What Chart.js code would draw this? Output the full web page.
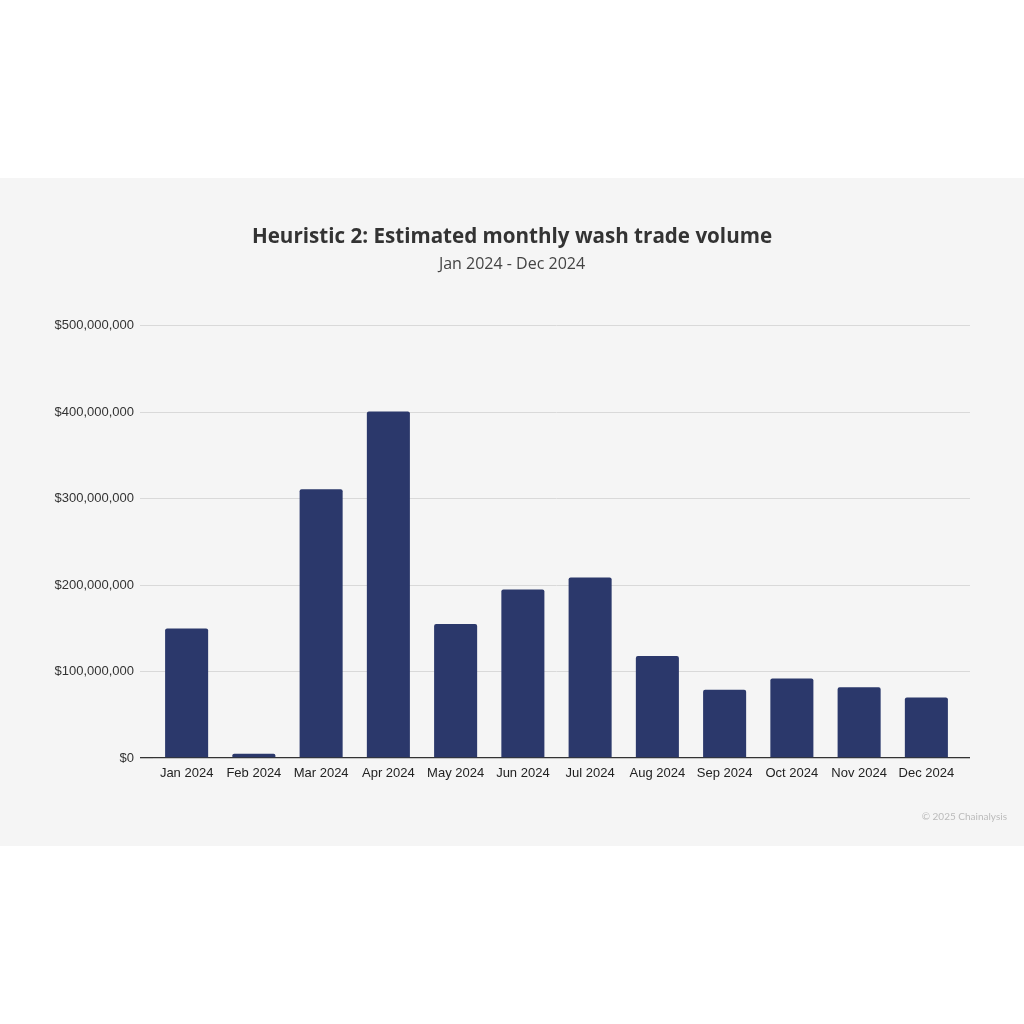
<!DOCTYPE html>
<html>
<head>
<meta charset="utf-8">
<script src="https://cdn.jsdelivr.net/npm/chart.js@4"></script>
<style>
  body { margin: 0; background: #fff; }
  #panel { position: absolute; left: 0; top: 178px; width: 1024px; height: 668px; background: #f5f5f5; }
  #credit { position: absolute; right: 17px; top: 632px; font: 10px Lato, sans-serif; color: #bbb; }
</style>
</head>
<body>
<div id="panel">
  <canvas id="washChart"></canvas>
  <span id="credit">© 2025 Chainalysis</span>
</div>
<script>
const months = ["Jan 2024", "Feb 2024", "Mar 2024", "Apr 2024", "May 2024", "Jun 2024",
                "Jul 2024", "Aug 2024", "Sep 2024", "Oct 2024", "Nov 2024", "Dec 2024"];
const washVolume = [150e6, 5e6, 311e6, 401e6, 155e6, 195e6, 209e6, 118e6, 79e6, 92e6, 82e6, 70e6];
const yTicks = [0, 100e6, 200e6, 300e6, 400e6, 500e6];

const barColor = '#2b386b';
const gridColor = (ctx) => (ctx.tick && ctx.tick.value === 0) ? '#333333' : '#d9d9d9';
const gridWidth = (ctx) => (ctx.tick && ctx.tick.value === 0) ? 1.3 : 1;

const fmt = (v) => '$' + Number(v).toLocaleString('en-US');

new Chart(document.getElementById('washChart'), {
  type: 'bar',
  data: {
    labels: months,
    datasets: [{
      label: 'Wash trade volume',
      data: washVolume,
      backgroundColor: barColor,
      borderRadius: 2,
      barPercentage: 0.8,
      categoryPercentage: 0.8
    }]
  },
  options: {
    responsive: true,
    maintainAspectRatio: false,
    animation: false,
    layout: { padding: 0 },
    plugins: {
      legend: { display: false },
      tooltip: { enabled: false },
      title: {
        display: true,
        text: 'Heuristic 2: Estimated monthly wash trade volume',
        color: '#333333',
        font: { family: 'Open Sans', size: 20.6, weight: 'bold' },
        padding: { top: 47, bottom: 0 }
      },
      subtitle: {
        display: true,
        text: 'Jan 2024 - Dec 2024',
        color: '#444444',
        font: { family: 'Open Sans', size: 16 },
        padding: { top: 5, bottom: 52 }
      }
    },
    scales: {
      x: {
        grid: { display: false },
        border: { display: false },
        ticks: { color: '#222222', font: { family: 'Arial, Liberation Sans', size: 13 }, padding: 0, maxRotation: 0 },
        afterFit: (s) => { s.height = 88; }
      },
      y: {
        min: 0,
        max: 500e6,
        afterBuildTicks: (s) => { s.ticks = yTicks.map(v => ({ value: v })); },
        border: { display: false },
        grid: { color: gridColor, lineWidth: gridWidth, drawTicks: true, tickLength: 13 },
        ticks: { color: '#333333', font: { family: 'Arial, Liberation Sans', size: 13 }, padding: 6, callback: fmt },
        afterFit: (s) => { s.width = 153; }
      },
      y2: {
        position: 'right',
        min: 0,
        max: 500e6,
        afterBuildTicks: (s) => { s.ticks = yTicks.map(v => ({ value: v })); },
        border: { display: false },
        grid: { color: gridColor, lineWidth: gridWidth, drawOnChartArea: false, drawTicks: true, tickLength: 10 },
        ticks: { display: false },
        afterFit: (s) => { s.width = 64; }
      }
    }
  }
});
</script>
</body>
</html>
